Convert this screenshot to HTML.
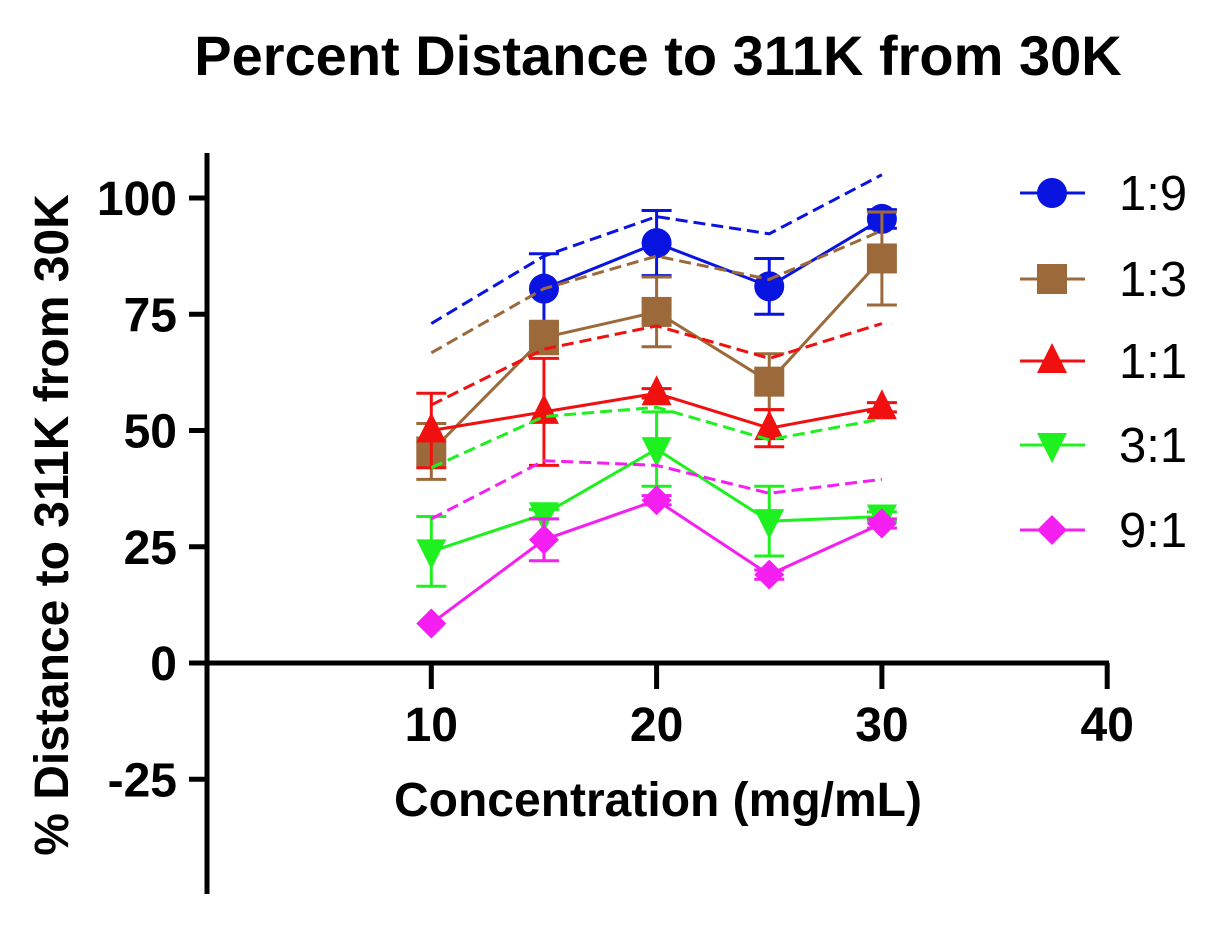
<!DOCTYPE html>
<html><head><meta charset="utf-8">
<style>
html,body{margin:0;padding:0;background:#fff;}
svg{display:block;font-family:"Liberation Sans",Arial,sans-serif;font-weight:bold;}
</style></head>
<body>
<svg id="chart" width="1221" height="926" viewBox="0 0 1221 926" xmlns="http://www.w3.org/2000/svg">
<text x="658" y="75" font-size="56" text-anchor="middle">Percent Distance to 311K from 30K</text>
<text x="658" y="816" font-size="48" text-anchor="middle">Concentration (mg/mL)</text>
<text transform="translate(68,525) rotate(-90)" font-size="48" text-anchor="middle">% Distance to 311K from 30K</text>
<g id="axes"></g>
<g id="series"></g>
<g id="legend"></g>
</svg>
<script>
const xCats = [10, 15, 20, 25, 30];
const seriesNames = ["1:9", "1:3", "1:1", "3:1", "9:1"];
const seriesColors = ["#0a14e0", "#9c6a3a", "#f01010", "#1ff01f", "#f41ff0"];
const seriesMarkers = ["circle", "square", "up", "down", "diamond"];
const vals19 = [null, 80.5, 90.3, 81, 95.5];
const vals13 = [45.5, 70, 75.5, 60.5, 87];
const vals11 = [50, 54, 58, 50.5, 55];
const vals31 = [24, 32, 46, 30.5, 31.5];
const vals91 = [8.5, 26.5, 35, 19, 30];
const err19 = [0, 7.5, 7, 6, 2];
const err13 = [6, 3.5, 7.5, 6, 10];
const err11 = [8, 11.5, 1, 4, 1];
const err31 = [7.5, 1, 8, 7.5, 1];
const err91 = [0, 4.5, 1, 1, 1];
const dash19 = [73, 87.5, 96, 92.3, 105];
const dash13 = [66.7, 80.5, 87.5, 82.5, 93];
const dash11 = [55.5, 67.5, 72.5, 65.5, 73];
const dash31 = [42, 53, 55, 48, 52.5];
const dash91 = [31, 43.5, 42.5, 36.5, 39.5];
const yTicks = [-25, 0, 25, 50, 75, 100];
const xTicks = [10, 20, 30, 40];

const NS = "http://www.w3.org/2000/svg";
const xs = v => 206 + (v) * 22.53;
const ys = v => 663 - v * 4.65;
function mk(tag, attrs, parent){const e=document.createElementNS(NS,tag);for(const k in attrs)e.setAttribute(k,attrs[k]);parent.appendChild(e);return e;}
const axes = document.getElementById('axes');
let a = mk('line',{x1:207,y1:153,x2:207,y2:894,stroke:'#000','stroke-width':5},axes);


a = mk('line',{x1:205,y1:663,x2:1109,y2:663,stroke:'#000','stroke-width':5},axes);


yTicks.forEach(t=>{
  const y=ys(t);
  const l=mk('line',{x1:189,y1:y,x2:207,y2:y,stroke:'#000','stroke-width':5},axes);
  
  
  const tx=mk('text',{x:177,y:y+17,'font-size':48,'text-anchor':'end'},axes);
  tx.textContent=t;
  
  
});
xTicks.forEach(t=>{
  const x=xs(t);
  const l=mk('line',{x1:x,y1:663,x2:x,y2:689,stroke:'#000','stroke-width':5},axes);
  
  
  const tx=mk('text',{x:x,y:741,'font-size':48,'text-anchor':'middle'},axes);
  tx.textContent=t;
  
  
});
function marker(type,cx,cy,color,parent){
  let e;
  if(type==='circle') e=mk('circle',{cx:cx,cy:cy,r:15,fill:color},parent);
  else if(type==='square') e=mk('rect',{x:cx-15,y:cy-15,width:30,height:30,fill:color},parent);
  else if(type==='up') e=mk('polygon',{points:`${cx},${cy-18} ${cx-15},${cy+12} ${cx+15},${cy+12}`,fill:color},parent);
  else if(type==='down') e=mk('polygon',{points:`${cx},${cy+18} ${cx-15},${cy-12} ${cx+15},${cy-12}`,fill:color},parent);
  else e=mk('polygon',{points:`${cx},${cy-15} ${cx+15},${cy} ${cx},${cy+15} ${cx-15},${cy}`,fill:color},parent);
  return e;
}
const allVals=[vals19,vals13,vals11,vals31,vals91];
const allErr=[err19,err13,err11,err31,err91];
const allDash=[dash19,dash13,dash11,dash31,dash91];
const sg=document.getElementById('series');
allVals.forEach((vals,i)=>{
  const c=seriesColors[i];
  const g=mk('g',{},sg);
  
  
  const dp=allDash[i].map((v,j)=>xs(xCats[j])+','+ys(v)).join(' ');
  const d=mk('polyline',{points:dp,fill:'none',stroke:c,'stroke-width':3,'stroke-dasharray':'12,6'},g);
  
  
  const pts=[];vals.forEach((v,j)=>{if(v!==null)pts.push(xs(xCats[j])+','+ys(v));});
  const p=mk('polyline',{points:pts.join(' '),fill:'none',stroke:c,'stroke-width':3},g);
  
  
  vals.forEach((v,j)=>{
    if(v===null)return;
    const x=xs(xCats[j]),e=allErr[i][j];
    if(e>0){
      const eb=mk('path',{d:`M${x},${ys(v+e)}V${ys(v-e)}M${x-15},${ys(v+e)}h30M${x-15},${ys(v-e)}h30`,stroke:c,'stroke-width':3,fill:'none'},g);
      
      
    }
    const m=marker(seriesMarkers[i],x,ys(v),c,g);
    
    
  });
});
const lg=document.getElementById('legend');
const legY=[193,279,361,445,530];
seriesNames.forEach((n,i)=>{
  const g=mk('g',{},lg);
  
  
  mk('line',{x1:1020,y1:legY[i],x2:1085,y2:legY[i],stroke:seriesColors[i],'stroke-width':3},g);
  marker(seriesMarkers[i],1052,legY[i],seriesColors[i],g);
  const t=mk('text',{x:1119,y:legY[i]+17,'font-size':49,'font-weight':'normal'},g);
  t.textContent=n;
});
</script>
</body></html>
